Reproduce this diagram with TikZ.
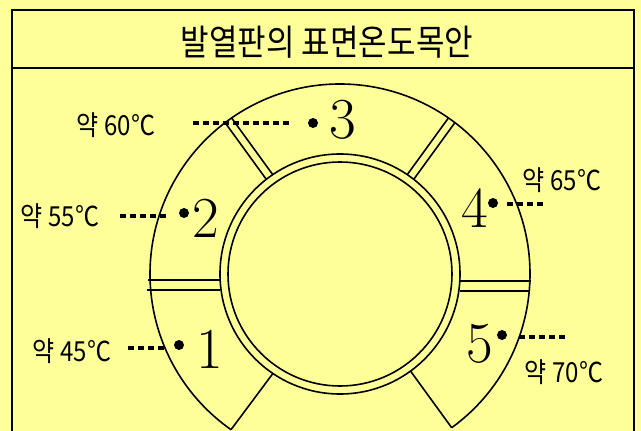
\documentclass[tikz,border=0pt]{standalone}
\usepackage{fontspec}
\usepackage{graphicx}
\newfontfamily\kofont{Noto Sans CJK KR}
\usetikzlibrary{positioning, calc}
\definecolor{cpaper}{HTML}{FFFF99}
\newcommand{\tallbox}[1]{\scalebox{1}[1.15]{#1}}

\begin{document}
\begin{tikzpicture}[x=1pt, y=-1pt,
	% Estilo para el marco
	frameline/.style={line width=2pt},
	% Estilo para la placa
	ringline/.style={line width=1.6pt},
	% Estilo para las lineas de puntos
	tempdots/.style={line width=4.8pt, dash pattern=on 6pt off 4pt},
	% Estilo para los puntos de medida
	marker/.style={circle, fill, inner sep=0pt, minimum size=10pt},
	% Estilo para los numeros de zona
	zonenum/.style={inner sep=0pt, font=\fontsize{58}{60}\selectfont},
	% Estilo para las temperaturas
	templabel/.style={inner sep=0pt, font=\kofont\fontsize{24}{26}\selectfont},
	titletext/.style={inner sep=0pt, font=\kofont\fontsize{31}{33}\selectfont}
	]
	
	\useasboundingbox (0,0) rectangle (641,431);
	\fill[cpaper] (0,0) rectangle (641,431);
	\clip (0,0) rectangle (641,431);
	
	% --- Marco y titulo ---
	\draw[frameline] (12,440) -- (12,10) -- (634,10) -- (634,440);
	\draw[frameline] (12,68) -- (634,68);
	\node[titletext] (title) at (327,42) {\tallbox{발열판의 표면온도목안}};
	
	% --- Placa ---
	\coordinate (c) at (340,274);
	\draw[ringline] ($(c)+(-54:190pt)$) arc[start angle=-54, end angle=235, radius=190pt];
	\draw[ringline] ($(c)+(-54:190pt)$) -- ($(c)+(-54:120pt)$);
	\draw[ringline] ($(c)+(235:190pt)$) -- ($(c)+(236:120pt)$);
	\draw[ringline] (c) circle[radius=120pt];
	\draw[ringline] (c) circle[radius=112pt];
	
	% Separadores superiores
	\foreach \a in {126,54} {
		\draw[ringline] ($(c)+(\a:190pt)+(\a+90:4pt)$) -- ($(c)+(\a:120pt)+(\a+90:4pt)$);
		\draw[ringline] ($(c)+(\a:190pt)+(\a-90:4pt)$) -- ($(c)+(\a:120pt)+(\a-90:4pt)$);
	}
	% Separadores laterales
	\draw[ringline] (148,280) -- (220,280);
	\draw[ringline] (147,290) -- (220,290);
	\draw[ringline] (460,281) -- (531,281);
	\draw[ringline] (460,291) -- (529,291);
	
	% --- Zonas ---
	\node[marker] (m1) at (179,345) {};
	\node[marker] (m2) at (184,213) {};
	\node[marker] (m3) at (313,123) {};
	\node[marker] (m4) at (493,203) {};
	\node[marker] (m5) at (502,335) {};
	
	\node[zonenum] (n1) at (210,349) {1};
	\node[zonenum] (n2) at (206,218) {2};
	\node[zonenum] (n3) at (343,120) {3};
	\node[zonenum] (n4) at (475,208) {4};
	\node[zonenum] (n5) at (480,344) {5};
	
	% Temperaturas
	\node[templabel] (l45) at (72,351) {\tallbox{약 45℃}};
	\node[templabel] (l55) at (60,216) {\tallbox{약 55℃}};
	\node[templabel] (l60) at (116,125) {\tallbox{약 60℃}};
	\node[templabel] (l65) at (562,180) {\tallbox{약 65℃}};
	\node[templabel] (l70) at (564,372) {\tallbox{약 70℃}};
	
	% Lineas de puntos
	\coordinate (d45) at (128,348);
	\coordinate (d55) at (120,216);
	\coordinate (d60) at (193,123);
	\coordinate (d65) at (543,204);
	\coordinate (d70) at (567,337);
	\draw[tempdots, shorten >=7pt] (d45) -- (d45 -| m1.west);
	\draw[tempdots, shorten >=11pt] (d55) -- (d55 -| m2.west);
	\draw[tempdots, shorten >=15pt] (d60) -- (d60 -| m3.west);
	\draw[tempdots, shorten <=9pt] (m4.east |- d65) -- (d65);
	\draw[tempdots, shorten <=12pt] (m5.east |- d70) -- (d70);
	
\end{tikzpicture}
\end{document}
